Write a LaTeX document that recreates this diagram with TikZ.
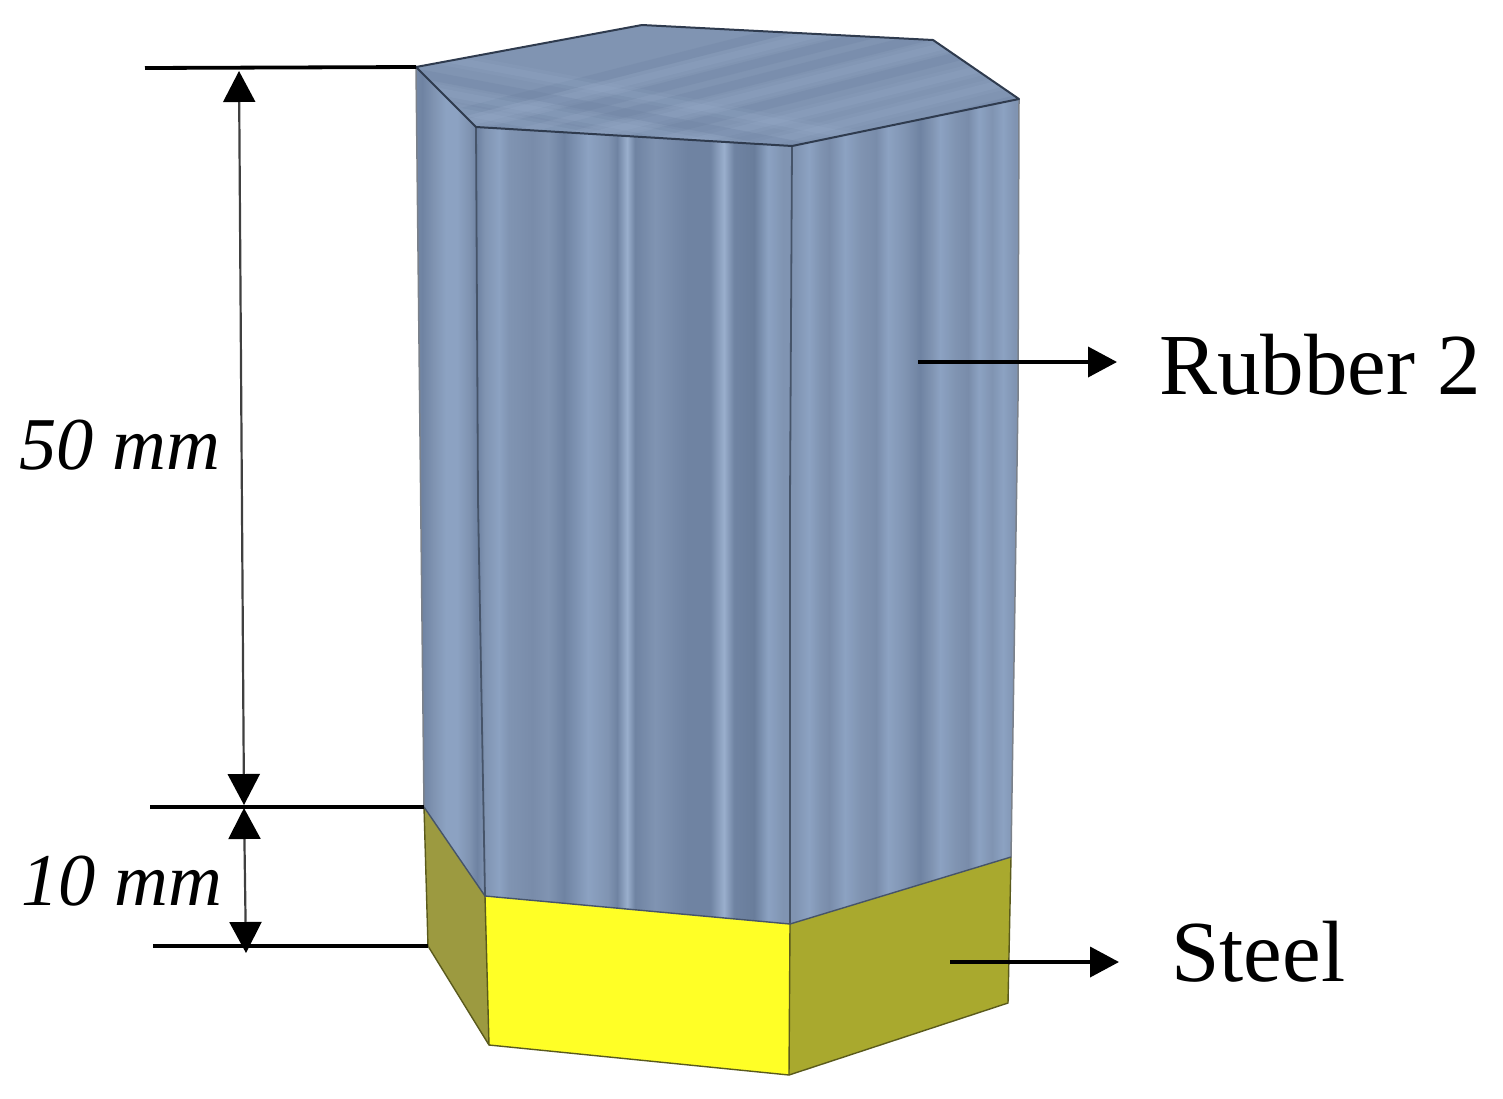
\documentclass[tikz,border=0pt]{standalone}
\usepackage{fontspec}
\setmainfont{Liberation Serif}
\usetikzlibrary{arrows.meta}
\definecolor{cD}{HTML}{6F83A2}
\definecolor{cE}{HTML}{697D9B}
\definecolor{cG}{HTML}{798CAA}
\definecolor{cM}{HTML}{8094B2}
\definecolor{cL}{HTML}{8CA2C2}
\definecolor{cB}{HTML}{9AAFCD}
\definecolor{edgeDark}{HTML}{465469}
\definecolor{edgeTop}{HTML}{2F3B4E}
\definecolor{steelFront}{HTML}{FFFF26}
\definecolor{steelRight}{HTML}{A9A92E}
\definecolor{steelLeft}{HTML}{9C9A40}
\definecolor{steelEdge}{HTML}{5A5A1C}
\pgfdeclarehorizontalshading{rubberstripes}{100bp}{%
color(0bp)=(cM);color(25bp)=(cM);color(26.75bp)=(cD);color(27.7bp)=(cM);color(28.65bp)=(cL);color(29.52bp)=(cL);color(30.48bp)=(cM);color(31.11bp)=(cD);color(31.75bp)=(cM);color(32.86bp)=(cL);color(33.65bp)=(cM);color(35.48bp)=(cG);color(36.75bp)=(cM);color(38.02bp)=(cD);color(39.92bp)=(cL);color(41.51bp)=(cM);color(42.22bp)=(cD);color(43.02bp)=(cB);color(43.65bp)=(cD);color(45.24bp)=(cM);color(47.78bp)=(cD);color(49.6bp)=(cD);color(50.71bp)=(cB);color(51.51bp)=(cD);color(53.1bp)=(cE);color(54.21bp)=(cL);color(55.4bp)=(cM);color(56.35bp)=(cM);color(57.46bp)=(cL);color(58.33bp)=(cM);color(59.05bp)=(cG);color(60.32bp)=(cL);color(61.5bp)=(cM);color(62.78bp)=(cG);color(63.73bp)=(cL);color(65.08bp)=(cM);color(66.27bp)=(cD);color(67.2bp)=(cM);color(67.86bp)=(cL);color(69.05bp)=(cM);color(70.08bp)=(cG);color(70.95bp)=(cL);color(71.98bp)=(cM);color(72.86bp)=(cL);color(73.8bp)=(cM);color(75bp)=(cM);color(100bp)=(cM)}
\tikzset{
  dimline/.style={line width=3.8pt,black},
  dimarrow/.style={line width=2.2pt,black!75,{Triangle[length=31pt,width=32pt,black]}-{Triangle[length=31pt,width=32pt,black]}},
  callout/.style={line width=3.8pt,black,-{Triangle[length=29pt,width=30pt]}},
  facelabel/.style={font=\fontsize{87}{87}\selectfont,anchor=base west,inner sep=0pt},
  dimlabel/.style={font=\fontsize{74.5}{74.5}\selectfont\itshape,anchor=base west,inner sep=0pt},
  rubberedge/.style={line width=1.8pt,edgeDark},
  topedge/.style={line width=2pt,edgeTop,line join=round},
  steeledge/.style={line width=1.4pt,steelEdge,line join=round},
  streak/.style={line width=7pt,cB,opacity=.2,preaction={draw,line width=14pt,cB,opacity=.12}},
  darkstreak/.style={line width=9pt,cD,opacity=.3}
}
\begin{document}
\begin{tikzpicture}[x=1pt,y=-1pt]
\useasboundingbox (0,0) rectangle (1503,1098);
% corners
\coordinate (tA) at (416,67);
\coordinate (tB) at (642,25);
\coordinate (tC) at (933,40);
\coordinate (tD) at (1019,99);
\coordinate (tE) at (792,146);
\coordinate (tF) at (476,127);
\coordinate (mA) at (424,807);
\coordinate (mF) at (485,896);
\coordinate (mE) at (790,924);
\coordinate (mD) at (1011,857);
\coordinate (bA) at (428,946);
\coordinate (bF) at (489,1045);
\coordinate (bE) at (789,1075);
\coordinate (bD) at (1008,1003);
% steel
\fill[steelLeft] (mA)--(mF)--(bF)--(bA)--cycle;
\fill[steelFront] (mF)--(mE)--(bE)--(bF)--cycle;
\fill[steelRight] (mE)--(mD)--(bD)--(bE)--cycle;
\draw[steeledge] (mA)--(bA)--(bF)--(bE)--(bD)--(mD);
\draw[steeledge] (mF)--(bF) (mE)--(bE);
% rubber sides
\begin{scope}
\clip (tA)--(tF)--(tE)--(tD)--(1018,400)--(mD)--(mE)--(mF)--(mA)--cycle;
\shade[shading=rubberstripes] (400,0) rectangle (1030,1000);
\end{scope}
\draw[line width=1.5pt,gray!70!cD] (tA)--(mA);
\draw[line width=1.5pt,gray!70!cD] (tD)--(1018,400)--(mD);
\draw[rubberedge] (tF)--(478,500)--(mF);
\draw[rubberedge] (tE)--(790,500)--(mE);
\draw[line width=1.4pt,edgeDark] (mA)--(mF)--(mE)--(mD);
% rubber top
\begin{scope}
\clip (tA)--(tB)--(tC)--(tD)--(tE)--(tF)--cycle;
\fill[cM] (400,20) rectangle (1030,150);
\foreach \yy/\st in {58/darkstreak,70/streak,84/darkstreak,100/darkstreak,114/streak,128/darkstreak,146/streak,166/streak,186/darkstreak,200/streak,216/streak,232/streak}{
  \draw[\st] (400,\yy+70) -- (1030,\yy-90);
}
\foreach \yy/\st in {50/streak,70/darkstreak,84/streak,100/streak,120/darkstreak}{
  \draw[\st] (400,\yy) -- (1030,\yy+120);
}
\end{scope}
\draw[topedge] (tA)--(tB)--(tC)--(tD)--(tE)--(tF)--cycle;
% dimensions
\coordinate (d1l) at (145,68);
\coordinate (d2l) at (150,807);
\coordinate (d3l) at (153,946);
\coordinate (d2r) at (424,807);
\coordinate (d3r) at (428,946);
\coordinate (a1t) at (239,71);
\coordinate (a1b) at (244,805);
\coordinate (a2t) at (244,808);
\coordinate (a2b) at (246,953);
\draw[dimline] (d1l)--(tA);
\draw[dimline] (d2l)--(d2r);
\draw[dimline] (d3l)--(d3r);
\draw[dimarrow] (a1t)--(a1b);
\draw[dimarrow] (a2t)--(a2b);
% callouts
\coordinate (c1s) at (918,362);
\coordinate (c1e) at (1117,362);
\coordinate (c2s) at (950,962);
\coordinate (c2e) at (1119,962);
\draw[callout] (c1s)--(c1e);
\draw[callout] (c2s)--(c2e);
% labels
\node[facelabel] (rubberlabel) at (1159,394) {Rubber 2};
\node[facelabel] (steellabel) at (1171,981) {Steel};
\node[dimlabel] (fiftylabel) at (19,469) {50 mm};
\node[dimlabel] (tenlabel) at (21,905) {10 mm};
\end{tikzpicture}
\end{document}
